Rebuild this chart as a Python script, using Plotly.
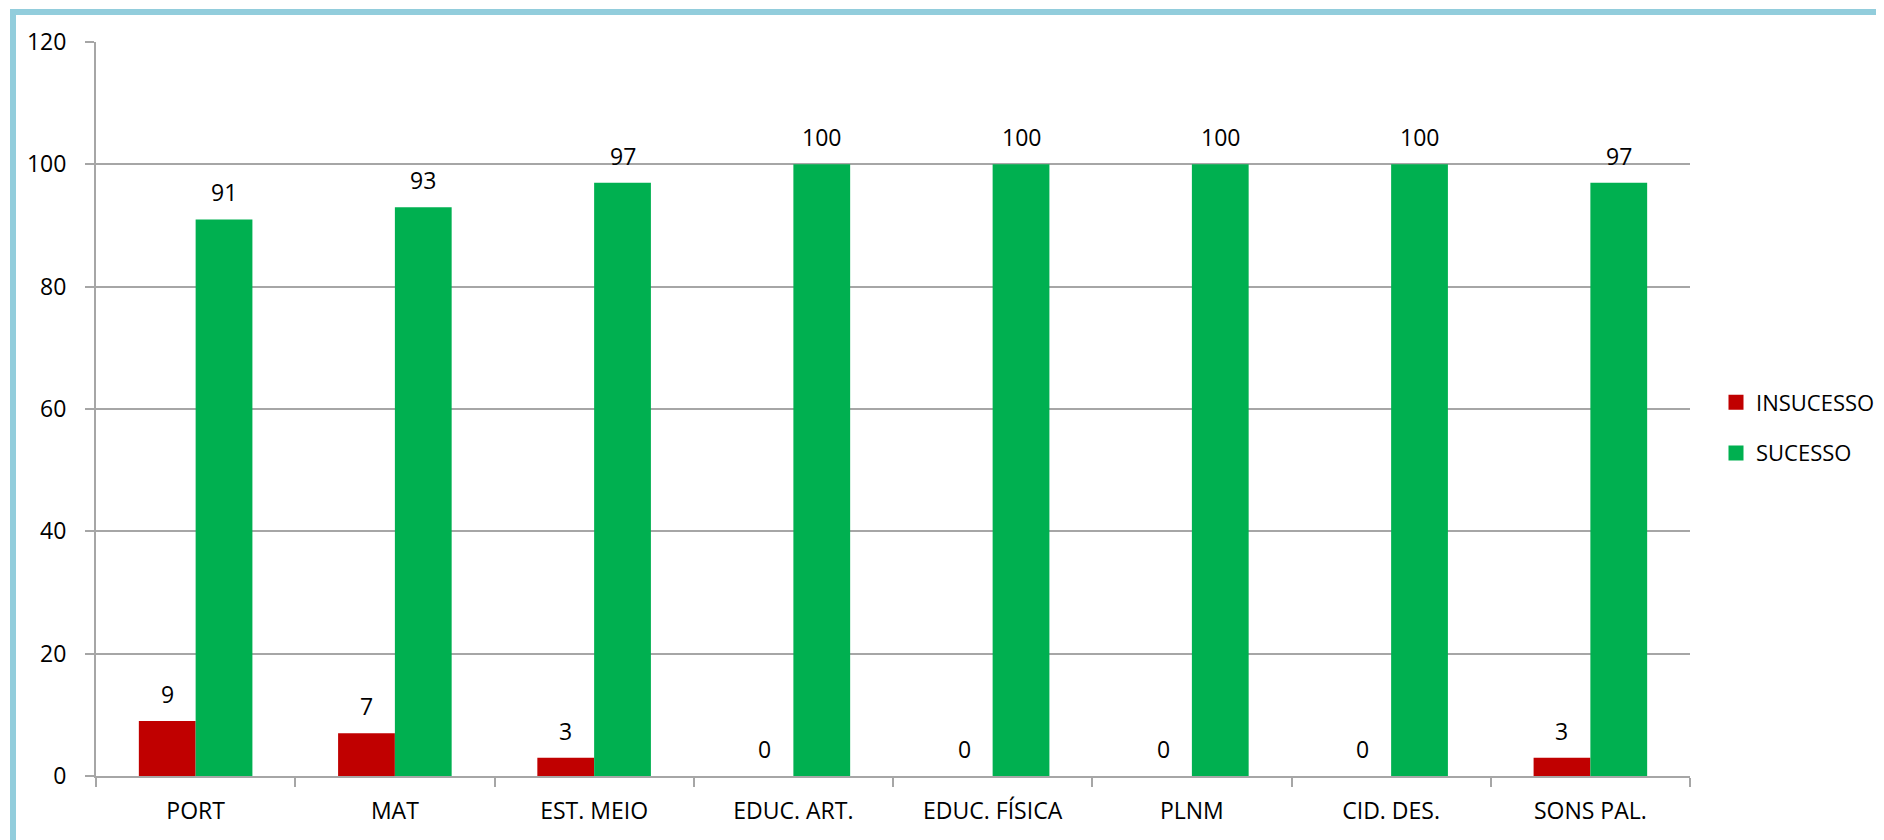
import plotly.graph_objects as go

SUBJECTS = ["PORT", "MAT", "EST. MEIO", "EDUC. ART.", "EDUC. FÍSICA",
            "PLNM", "CID. DES.", "SONS PAL."]
INSUCESSO = [9, 7, 3, 0, 0, 0, 0, 3]
SUCESSO = [91, 93, 97, 100, 100, 100, 100, 97]

RED = "#C00000"
GREEN = "#00B050"
GRID = "#A6A6A6"
FONT = dict(family="Open Sans", size=23, color="#000000")

# page body adds an 8px offset, so the figure is a bit smaller than the window
W, H = 1876, 832
L, R, T, B = 88, 194, 34, 64
PW, PH = W - L - R, H - T - B


def px(x):
    return (x - L) / PW


def py(y):
    return (H - B - y) / PH


fig = go.Figure()
for name, vals, color, grp in [("INSUCESSO", INSUCESSO, RED, "a"),
                               ("SUCESSO", SUCESSO, GREEN, "b")]:
    fig.add_trace(go.Bar(
        name=name, x=SUBJECTS, y=vals,
        marker=dict(color=color, line=dict(width=0)),
        showlegend=False,
    ))
    # legend entry with a bigger square than the bar default
    fig.add_trace(go.Scatter(
        name=name, x=[None], y=[None], mode="markers",
        marker=dict(symbol="square", size=15, color=color),
        legendgroup=grp, showlegend=True,
    ))

# value labels above the bars
for vals, shift in [(INSUCESSO, -28.5), (SUCESSO, 28.5)]:
    for cat, v in zip(SUBJECTS, vals):
        fig.add_annotation(
            x=cat, y=v, text=str(v), showarrow=False,
            xshift=shift, yshift=27, yanchor="middle", font=FONT,
        )

# light blue frame round the chart
fig.add_shape(
    type="rect", xref="paper", yref="paper",
    x0=px(5), x1=px(1871), y0=py(860), y1=py(4),
    line=dict(color="#92CDDC", width=6), fillcolor="rgba(0,0,0,0)",
    layer="below",
)

fig.update_layout(
    width=W, height=H,
    paper_bgcolor="white", plot_bgcolor="white",
    font=FONT,
    barmode="group", bargap=0.43, bargroupgap=0,
    margin=dict(l=L, r=R, t=T, b=B, autoexpand=False),
    showlegend=True,
    legend=dict(x=px(1708), y=py(420), xanchor="left", yanchor="middle",
                font=dict(FONT, size=22), tracegroupgap=19,
                bgcolor="rgba(0,0,0,0)"),
    xaxis=dict(
        showline=True, linecolor=GRID, linewidth=2, automargin=False,
        ticks="outside", tickson="boundaries", ticklen=9, tickcolor=GRID,
        tickwidth=2, showgrid=False, ticklabelstandoff=13,
    ),
    yaxis=dict(
        range=[0, 120], dtick=20, showgrid=True, gridcolor=GRID, gridwidth=1.5,
        showline=True, linecolor=GRID, linewidth=2, zeroline=False,
        automargin=False,
        ticks="outside", ticklen=9, tickcolor=GRID, tickwidth=1.5,
        ticklabelstandoff=14,
    ),
)

fig.write_html("out.html")
